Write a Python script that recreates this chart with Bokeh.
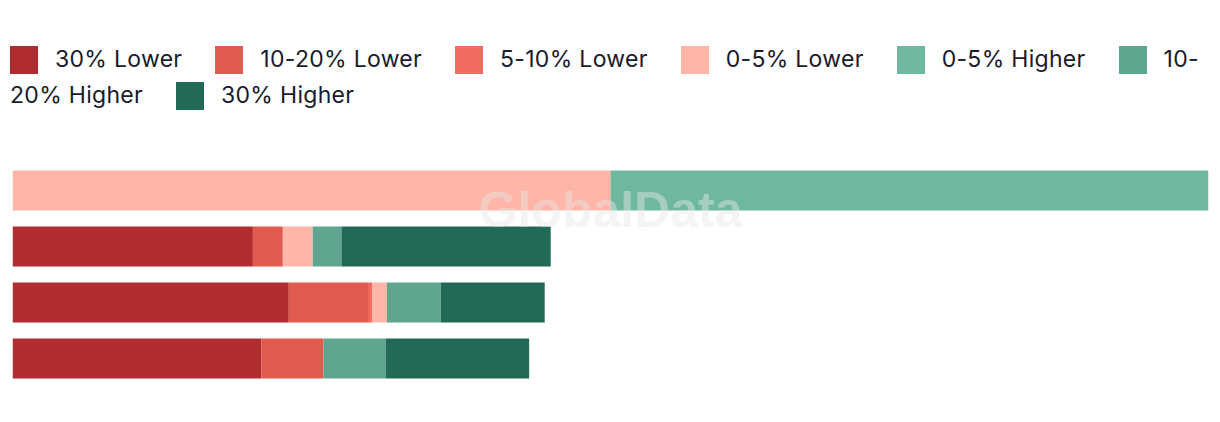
from bokeh.plotting import figure
from bokeh.models import Range1d, Div, ColumnDataSource
from bokeh.layouts import column
from bokeh.embed import file_html
from bokeh.resources import INLINE
from bokeh.core.properties import value

# ---- data ----
categories = ["Group 1", "Group 2", "Group 3", "Group 4"]
series_names = ["30% Lower", "10-20% Lower", "5-10% Lower", "0-5% Lower",
                "0-5% Higher", "10-20% Higher", "30% Higher"]
lower_30 = [0, 20.1, 23.1, 20.8]
lower_10_20 = [0, 2.5, 6.7, 5.2]
lower_5_10 = [0, 0, 0.3, 0]
lower_0_5 = [50, 2.5, 1.2, 0]
higher_0_5 = [50, 0, 0, 0]
higher_10_20 = [0, 2.4, 4.5, 5.2]
higher_30 = [0, 17.5, 8.7, 12.0]
colors = ["#af2c2f", "#e05a4f", "#f36b60", "#ffb5a7", "#6fb8a0", "#60a58f", "#216a57"]

series_values = [lower_30, lower_10_20, lower_5_10, lower_0_5,
                 higher_0_5, higher_10_20, higher_30]
keys = [f"s{i}" for i in range(len(series_names))]
n = len(categories)
data = {"y": [n - 1 - i for i in range(n)], "cat": categories}
for k, vals in zip(keys, series_values):
    data[k] = vals
source = ColumnDataSource(data)

# ---- legend (HTML, wraps like the original) ----
parts = []
for i, (name, col) in enumerate(zip(series_names, colors)):
    label = "10-<br>20% Higher" if name == "10-20% Higher" else name
    ml = "0" if i == 0 else "33px"
    parts.append(
        f'<span style="display:inline-block;width:28px;height:28px;background:{col};'
        f'vertical-align:middle;margin-left:{ml};margin-right:17px"></span>'
        f'<span style="vertical-align:middle">{label}</span>'
    )
legend_html = (
    '<div style="font-family:Inter, sans-serif;font-size:23px;letter-spacing:0.3px;line-height:35px;'
    'color:#1a1a2a;white-space:nowrap;padding-top:33px;padding-left:2px">'
    + "".join(parts) + "</div>"
)
legend_div = Div(text=legend_html, width=1204, height=120, margin=0)

# ---- chart ----
p = figure(width=1204, height=286, x_range=Range1d(0, 100), y_range=Range1d(-0.5, n - 0.5),
           toolbar_location=None, output_backend="svg",
           x_axis_location=None, y_axis_location=None,
           min_border_left=4, min_border_right=4, min_border_top=34, min_border_bottom=28,
           margin=0)
p.outline_line_color = None
p.xgrid.visible = False
p.ygrid.visible = False
p.background_fill_color = "white"

p.hbar_stack(keys, y="y", height=40 / 56, color=colors, line_color=None, source=source)

p.text(x=[50], y=[n - 0.5 - 47 / 56], text=["GlobalData"],
       text_font=value("Liberation Sans"), text_font_style="bold", text_font_size="50px",
       text_color="#e6e6e6", text_alpha=0.45, text_align="center", text_baseline="middle")

layout = column(legend_div, p, spacing=0, margin=(8, 8, 8, 8))
open("out.html", "w").write(file_html(layout, INLINE))
